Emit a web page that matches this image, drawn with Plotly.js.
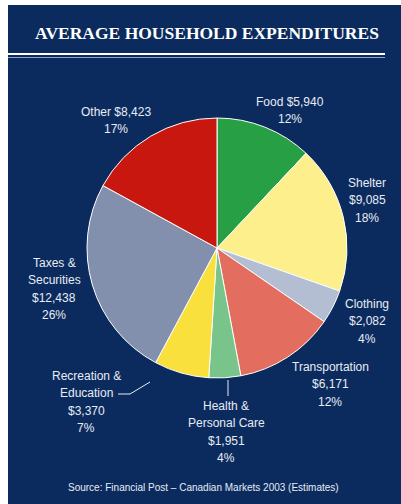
<!DOCTYPE html>
<html>
<head>
<meta charset="utf-8">
<script src="https://cdn.plot.ly/plotly-3.0.1.min.js"></script>
<style>html,body{margin:0;padding:0;background:#fff;}#chart{width:401px;height:504px;}</style>
</head>
<body>
<div id="chart"></div>
<script>
// ---- data ----
const categories = ['Food', 'Shelter', 'Clothing', 'Transportation', 'Health & Personal Care', 'Recreation & Education', 'Taxes & Securities', 'Other'];
const amounts = [5940, 9085, 2082, 6171, 1951, 3370, 12438, 8423];
const percents = [12, 18, 4, 12, 4, 7, 26, 17];
const sliceColors = ['#27a045', '#fcef8c', '#b4bed3', '#e36e5f', '#78c48a', '#fae03c', '#8290ad', '#c8170f'];
const chartTitle = 'AVERAGE HOUSEHOLD EXPENDITURES';
const sourceNote = 'Source: Financial Post \u2013 Canadian Markets 2003 (Estimates)';

// ---- layout helpers (pixel -> paper) ----
const W = 401, H = 504;
const px = x => x / W;
const py = y => 1 - y / H;
const money = v => '$' + v.toLocaleString('en-US');

// label placement: centre x, first-line y, mode
const labelCfg = [
  {x: 290, y: 102, mode: 'inline'},
  {x: 367, y: 183, mode: 'stack'},
  {x: 367, y: 304, mode: 'stack'},
  {x: 330, y: 367, mode: 'stack'},
  {x: 226, y: 406, mode: 'split'},
  {x: 86,  y: 376, mode: 'split'},
  {x: 54,  y: 263, mode: 'split'},
  {x: 116, y: 112, mode: 'inline'}
];
const step = 17.3;

function linesFor(i) {
  const name = categories[i], amt = money(amounts[i]), pct = percents[i] + '%';
  const m = labelCfg[i].mode;
  if (m === 'inline') return [name + ' ' + amt, pct];
  if (m === 'stack') return [name, amt, pct];
  const parts = name.split('& ');
  return [parts[0] + '&', parts[1], amt, pct];
}

const annotations = [];
categories.forEach((c, i) => {
  linesFor(i).forEach((t, k) => {
    annotations.push({
      xref: 'paper', yref: 'paper',
      x: px(labelCfg[i].x), y: py(labelCfg[i].y + k * step),
      xanchor: 'center', yanchor: 'middle',
      text: t, showarrow: false,
      font: {family: 'Liberation Sans, Arial, sans-serif', size: 12, color: '#e8ecf4'}
    });
  });
});
annotations.push({
  xref: 'paper', yref: 'paper', x: px(207), y: py(33), xanchor: 'center', yanchor: 'middle',
  text: '<b>' + chartTitle + '</b>', showarrow: false,
  font: {family: 'Liberation Serif, Times New Roman, serif', size: 17.5, color: '#ffffff'}
});
annotations.push({
  xref: 'paper', yref: 'paper', x: px(204), y: py(487), xanchor: 'center', yanchor: 'middle',
  text: sourceNote, showarrow: false,
  font: {family: 'Liberation Sans, Arial, sans-serif', size: 10, color: '#e8ecf4'}
});

const shapes = [
  {type: 'rect', xref: 'paper', yref: 'paper', x0: 0, x1: px(8), y0: 0, y1: 1, fillcolor: '#ffffff', line: {width: 0}},
  {type: 'rect', xref: 'paper', yref: 'paper', x0: 0, x1: 1, y0: py(5), y1: 1, fillcolor: '#ffffff', line: {width: 0}},
  {type: 'line', xref: 'paper', yref: 'paper', x0: px(8), x1: px(385), y0: py(54), y1: py(54), line: {color: '#ffffff', width: 2}},
  {type: 'line', xref: 'paper', yref: 'paper', x0: px(8), x1: px(385), y0: py(57.5), y1: py(57.5), line: {color: '#8fa3c8', width: 1}},
  // leader lines
  {type: 'line', xref: 'paper', yref: 'paper', x0: px(118), x1: px(130), y0: py(394), y1: py(394), line: {color: '#e8ecf4', width: 1}},
  {type: 'line', xref: 'paper', yref: 'paper', x0: px(130), x1: px(150), y0: py(394), y1: py(382), line: {color: '#e8ecf4', width: 1}},
  {type: 'line', xref: 'paper', yref: 'paper', x0: px(228), x1: px(228), y0: py(380), y1: py(396), line: {color: '#e8ecf4', width: 1}}
];

const cx = 217, cy = 248, r = 130;
const trace = {
  type: 'pie',
  labels: categories,
  values: amounts,
  sort: false,
  direction: 'clockwise',
  rotation: 0,
  textinfo: 'none',
  hoverinfo: 'label+value+percent',
  marker: {colors: sliceColors, line: {color: '#ffffff', width: 1}},
  domain: {x: [px(cx - r), px(cx + r)], y: [py(cy + r), py(cy - r)]},
  showlegend: false
};

const layout = {
  width: W, height: H,
  margin: {l: 0, r: 0, t: 0, b: 0},
  paper_bgcolor: '#0b2b5e',
  showlegend: false,
  annotations: annotations,
  shapes: shapes
};

Plotly.newPlot('chart', [trace], layout, {displayModeBar: false, staticPlot: true});
</script>
</body>
</html>
